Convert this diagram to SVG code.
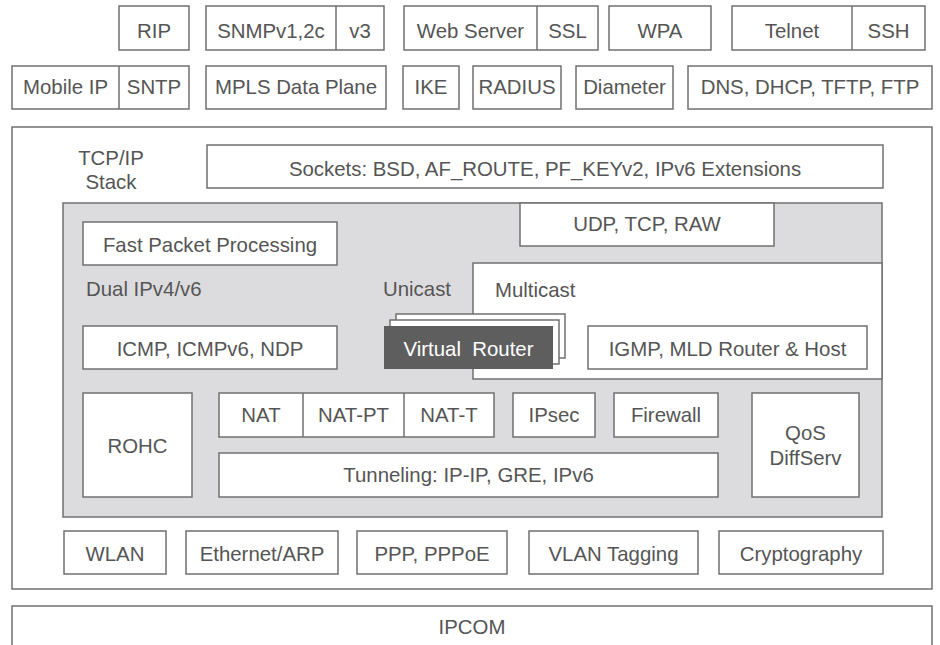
<svg xmlns="http://www.w3.org/2000/svg" width="940" height="645" viewBox="0 0 940 645">
<style>
.b{fill:#fff;stroke:#707070;stroke-width:1.5}
.g{fill:#dcdcde;stroke:#707070;stroke-width:1.5}
.d{fill:#5e5e5f;stroke:none}
.l{fill:none;stroke:#707070;stroke-width:1.5}
text{font-family:"Liberation Sans",Arial,sans-serif;font-size:20.4px;fill:#555}
.c{text-anchor:middle}
.w{fill:#fff}
</style>
<rect width="940" height="645" fill="#fff"/>
<g id="row1">
<g id="rip"><rect class="b" x="119" y="6" width="70" height="44"/><text class="c" x="154" y="38">RIP</text></g>
<g id="snmp"><rect class="b" x="206" y="6" width="178" height="44"/><line class="l" x1="336" y1="6" x2="336" y2="50"/><text class="c" x="271" y="38">SNMPv1,2c</text><text class="c" x="360" y="38">v3</text></g>
<g id="web"><rect class="b" x="404" y="6" width="194" height="44"/><line class="l" x1="537" y1="6" x2="537" y2="50"/><text class="c" x="470.5" y="38">Web Server</text><text class="c" x="567.5" y="38">SSL</text></g>
<g id="wpa"><rect class="b" x="609" y="6" width="102" height="44"/><text class="c" x="660" y="38">WPA</text></g>
<g id="telnet"><rect class="b" x="732" y="6" width="193" height="44"/><line class="l" x1="852" y1="6" x2="852" y2="50"/><text class="c" x="792" y="38">Telnet</text><text class="c" x="888.5" y="38">SSH</text></g>
</g>
<g id="row2">
<g id="mobile"><rect class="b" x="12" y="66" width="177" height="43"/><line class="l" x1="119" y1="66" x2="119" y2="109"/><text class="c" x="65.5" y="94">Mobile IP</text><text class="c" x="154" y="94">SNTP</text></g>
<g id="mpls"><rect class="b" x="206" y="66" width="180" height="43"/><text class="c" x="296" y="94">MPLS Data Plane</text></g>
<g id="ike"><rect class="b" x="403" y="66" width="56" height="43"/><text class="c" x="431" y="94">IKE</text></g>
<g id="radius"><rect class="b" x="473" y="66" width="88" height="43"/><text class="c" x="517" y="94">RADIUS</text></g>
<g id="diameter"><rect class="b" x="576" y="66" width="97" height="43"/><text class="c" x="624.5" y="94">Diameter</text></g>
<g id="dns"><rect class="b" x="688" y="66" width="244" height="43"/><text class="c" x="810" y="94">DNS, DHCP, TFTP, FTP</text></g>
</g>
<g id="tcpip">
<rect class="b" x="12" y="127" width="920" height="462"/>
<text class="c" x="111" y="165">TCP/IP</text>
<text class="c" x="111" y="189">Stack</text>
</g>
<g id="sockets"><rect class="b" x="207" y="145" width="676" height="43"/><text class="c" x="545" y="176">Sockets: BSD, AF_ROUTE, PF_KEYv2, IPv6 Extensions</text></g>
<g id="dual">
<rect class="g" x="63" y="203" width="819" height="314"/>
<text x="86" y="296">Dual IPv4/v6</text>
<text x="383" y="296">Unicast</text>
</g>
<g id="udp"><rect class="b" x="520" y="203" width="254" height="43"/><text class="c" x="647" y="231">UDP, TCP, RAW</text></g>
<g id="fast"><rect class="b" x="83" y="222" width="254" height="43"/><text class="c" x="210" y="252">Fast Packet Processing</text></g>
<g id="multicast"><rect class="b" x="473" y="263" width="409" height="116"/><text x="495" y="297">Multicast</text></g>
<g id="icmp"><rect class="b" x="83" y="326" width="254" height="43"/><text class="c" x="210" y="356">ICMP, ICMPv6, NDP</text></g>
<g id="vrouter">
<rect class="b" x="396" y="314" width="169" height="44"/>
<rect class="b" x="390" y="320" width="169" height="44"/>
<rect class="d" x="384" y="326" width="169" height="43"/>
<text class="c w" x="468.5" y="356" xml:space="preserve">Virtual  Router</text>
</g>
<g id="igmp"><rect class="b" x="588" y="326" width="279" height="43"/><text class="c" x="727.5" y="356">IGMP, MLD Router &amp; Host</text></g>
<g id="rohc"><rect class="b" x="83" y="393" width="109" height="104"/><text class="c" x="137.5" y="453">ROHC</text></g>
<g id="nat"><rect class="b" x="219" y="393" width="275" height="44"/><line class="l" x1="303" y1="393" x2="303" y2="437"/><line class="l" x1="404" y1="393" x2="404" y2="437"/><text class="c" x="261" y="422">NAT</text><text class="c" x="353.5" y="422">NAT-PT</text><text class="c" x="449" y="422">NAT-T</text></g>
<g id="ipsec"><rect class="b" x="513" y="393" width="82" height="44"/><text class="c" x="554" y="422">IPsec</text></g>
<g id="firewall"><rect class="b" x="614" y="393" width="104" height="44"/><text class="c" x="666" y="422">Firewall</text></g>
<g id="qos"><rect class="b" x="752" y="393" width="107" height="104"/><text class="c" x="805.5" y="440">QoS</text><text class="c" x="805.5" y="465">DiffServ</text></g>
<g id="tunneling"><rect class="b" x="219" y="453" width="499" height="44"/><text class="c" x="468.5" y="482">Tunneling: IP-IP, GRE, IPv6</text></g>
<g id="row3">
<g id="wlan"><rect class="b" x="64" y="531" width="102" height="43"/><text class="c" x="115" y="561">WLAN</text></g>
<g id="ethernet"><rect class="b" x="186" y="531" width="152" height="43"/><text class="c" x="262" y="561">Ethernet/ARP</text></g>
<g id="ppp"><rect class="b" x="357" y="531" width="150" height="43"/><text class="c" x="432" y="561">PPP, PPPoE</text></g>
<g id="vlan"><rect class="b" x="529" y="531" width="169" height="43"/><text class="c" x="613.5" y="561">VLAN Tagging</text></g>
<g id="crypto"><rect class="b" x="719" y="531" width="164" height="43"/><text class="c" x="801" y="561">Cryptography</text></g>
</g>
<g id="ipcom"><rect class="b" x="12" y="606" width="920" height="60"/><text class="c" x="472" y="634">IPCOM</text></g>
<g id="connectors"></g>
</svg>
